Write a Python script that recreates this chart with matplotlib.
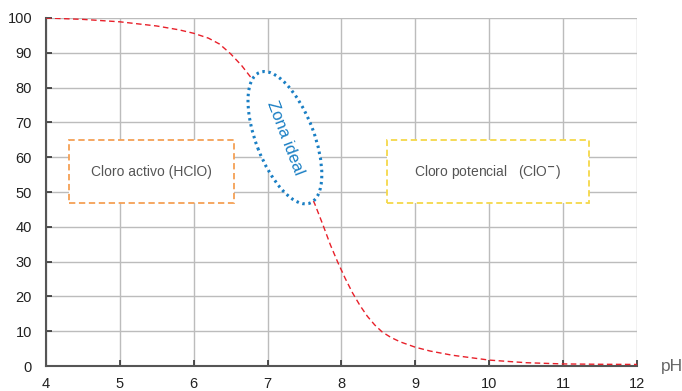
import numpy as np
import matplotlib
matplotlib.use("Agg")
import matplotlib.pyplot as plt
from matplotlib.patches import Ellipse, Rectangle
from matplotlib.transforms import ScaledTranslation

plt.rcParams['font.family'] = ['Liberation Sans', 'DejaVu Sans']

# curve (HClO share in %)
ph = [4.0, 4.5, 5.0, 5.5, 5.8, 6.0, 6.2, 6.35, 6.5, 6.65, 6.8, 7.0, 7.25, 7.5,
      7.64, 7.75, 7.85, 7.95, 8.05, 8.15, 8.25, 8.35, 8.45, 8.55, 8.67, 8.8,
      9.0, 9.2, 9.5, 10.0, 10.5, 11.0, 11.5, 12.0]
hclo = [100, 99.6, 98.9, 97.7, 96.6, 95.6, 94.2, 92.5, 89.7, 86.3, 82.2, 75.0, 65.0, 53.0,
        46.5, 40.5, 34.8, 29.8, 25.2, 21.0, 17.4, 14.3, 11.8, 9.8, 8.2, 6.9,
        5.4, 4.3, 3.1, 1.7, 0.95, 0.6, 0.5, 0.45]

x_ticks = [4, 5, 6, 7, 8, 9, 10, 11, 12]
y_ticks = [0, 10, 20, 30, 40, 50, 60, 70, 80, 90, 100]

# boxes: (x0, y0, x1, y1), label
box_active = (4.31, 46.8, 6.54, 64.9)
box_potential = (8.61, 46.8, 11.35, 64.9)
label_active = "Cloro activo (HClO)"
label_potential = "Cloro potencial   (ClO$^{\\mathbf{-}}$)"
ideal_center = (7.234, 65.6)

fig = plt.figure(figsize=(6.82, 3.91), dpi=100)
ax = fig.add_axes([0.0674, 0.0639, 0.8666, 0.8901])

ax.plot(ph, hclo, color='#e8202a', lw=1.0, ls=(0, (4, 2.5)), zorder=3)

ax.set_xlim(4, 12)
ax.set_ylim(0, 100)
ax.set_xticks(x_ticks)
ax.set_yticks(y_ticks)
ax.grid(True, color='#bcbcbc', lw=1.0, zorder=0)
ax.set_axisbelow(True)
for s in ['top', 'right']:
    ax.spines[s].set_visible(False)
for s in ['left', 'bottom']:
    ax.spines[s].set_color('#555555')
    ax.spines[s].set_linewidth(1.5)
ax.tick_params(direction='in', length=4, width=1.2, color='#333333',
               labelsize=10.5, labelcolor='#222222')
ax.tick_params(axis='y', pad=10)
ax.tick_params(axis='x', pad=8)

ax.text(1.06, 0.0, "pH", transform=ax.transAxes, fontsize=12.5,
        color='#666666', ha='center', va='center')

for (x0, y0, x1, y1), col, lab in [(box_active, '#f5a055', label_active),
                                   (box_potential, '#f5d84a', label_potential)]:
    ax.add_patch(Rectangle((x0, y0), x1 - x0, y1 - y0, facecolor='white',
                           edgecolor=col, lw=1.3, ls=(0, (3.5, 2)), zorder=4))
    ax.text((x0 + x1) / 2, (y0 + y1) / 2, lab, fontsize=10, color='#555555',
            ha='center', va='center', zorder=5)

# ellipse sized in pixels, placed at data coordinates
tr = fig.dpi_scale_trans + ScaledTranslation(ideal_center[0], ideal_center[1], ax.transData)
ax.add_patch(Ellipse((0, 0), width=1.40, height=0.58, angle=-69,
                     facecolor='white', edgecolor='#1a7fc4', lw=2.2,
                     ls=(0, (0.8, 1.2)), transform=tr, zorder=6, clip_on=False))
ax.text(ideal_center[0], ideal_center[1], "Zona ideal", rotation=-69,
        rotation_mode='anchor', fontsize=12, color='#1a7fc4',
        ha='center', va='center', zorder=7)

fig.savefig("out.png", dpi=100)
